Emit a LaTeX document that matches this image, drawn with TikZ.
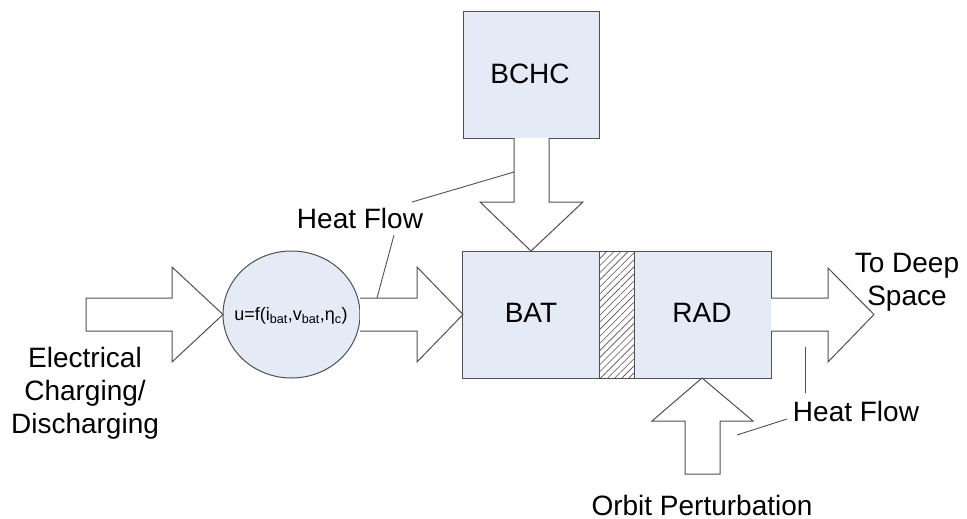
\documentclass[tikz,border=0pt]{standalone}
\usepackage{fontspec}
\setmainfont{Liberation Sans}
\usetikzlibrary{patterns.meta,shapes.geometric}
\definecolor{boxfill}{HTML}{E4EBF6}
\definecolor{edge}{HTML}{505050}
\begin{document}
\begin{tikzpicture}[x=1pt,y=-1pt,
  blk/.style={draw=edge,line width=1pt,fill=boxfill},
  barrow/.style={draw=edge,line width=1pt,fill=white,line join=miter},
  lead/.style={draw=edge,line width=0.9pt},
  lbl/.style={font=\fontsize{28}{33}\selectfont,text=black,inner sep=0pt,align=center}]
\useasboundingbox (0,0) rectangle (967,519);
% boxes
\node[blk,minimum width=136pt,minimum height=126pt,inner sep=0pt] (bchc) at (531,75) {};
\node[lbl] (bchct) at (530,74) {BCHC};
\node[blk,minimum width=137pt,minimum height=127pt,inner sep=0pt] (bat) at (530.5,314.5) {};
\node[draw=edge,line width=1pt,fill=white,minimum width=35pt,minimum height=127pt,inner sep=0pt,
  postaction={pattern={Lines[angle=45,distance=5pt,line width=0.6pt]},pattern color=edge}] (ins) at (616.5,314.5) {};
\node[blk,minimum width=137pt,minimum height=127pt,inner sep=0pt] (rad) at (702.5,314.5) {};
\node[lbl] at (531,313) {BAT};
\node[lbl] at (702,313) {RAD};
% formula ellipse
\node[blk,ellipse,minimum width=137pt,minimum height=127pt,inner sep=0pt] (fn) at (291.5,314.5) {};
\node[font=\fontsize{18}{20}\selectfont,inner sep=0pt] at (291,316) {u=f(i\textsubscript{bat},v\textsubscript{bat},η\textsubscript{c})};
% block arrows
\draw[barrow] (86,298) -- (172,298) -- (172,267) -- (223,314.5) -- (172,362) -- (172,331) -- (86,331) -- cycle;
\draw[barrow] (360,298) -- (417,298) -- (417,267) -- (463,314.5) -- (417,362) -- (417,331) -- (360,331);
\draw[barrow] (514,138) -- (514,202) -- (480,202) -- (531,251) -- (583,202) -- (549,202) -- (549,138);
\draw[barrow] (771,298) -- (828,298) -- (828,268) -- (874,314.5) -- (828,362) -- (828,331) -- (771,331);
\draw[barrow] (702,378) -- (753,421) -- (720,421) -- (720,474) -- (685,474) -- (685,421) -- (652,421) -- cycle;
% labels
\node[lbl] (hf1) at (360,218) {Heat Flow};
\node[lbl] (hf2) at (856,411) {Heat Flow};
\node[lbl] (tds) at (907,282) {To Deep\\Space};
\node[lbl] (orb) at (702,505) {Orbit Perturbation};
\node[lbl] (ecd) at (85,393) {Electrical\\Charging/\\Discharging};
% leaders
\coordinate (l1a) at (412,202); \coordinate (l1b) at (514,172);
\coordinate (l2a) at (394,235); \coordinate (l2b) at (377,298);
\coordinate (l3a) at (805,347); \coordinate (l3b) at (805,393);
\coordinate (l4a) at (787,419); \coordinate (l4b) at (737,435);
\draw[lead] (l1a) -- (l1b);
\draw[lead] (l2a) -- (l2b);
\draw[lead] (l3a) -- (l3b);
\draw[lead] (l4a) -- (l4b);
\end{tikzpicture}
\end{document}
